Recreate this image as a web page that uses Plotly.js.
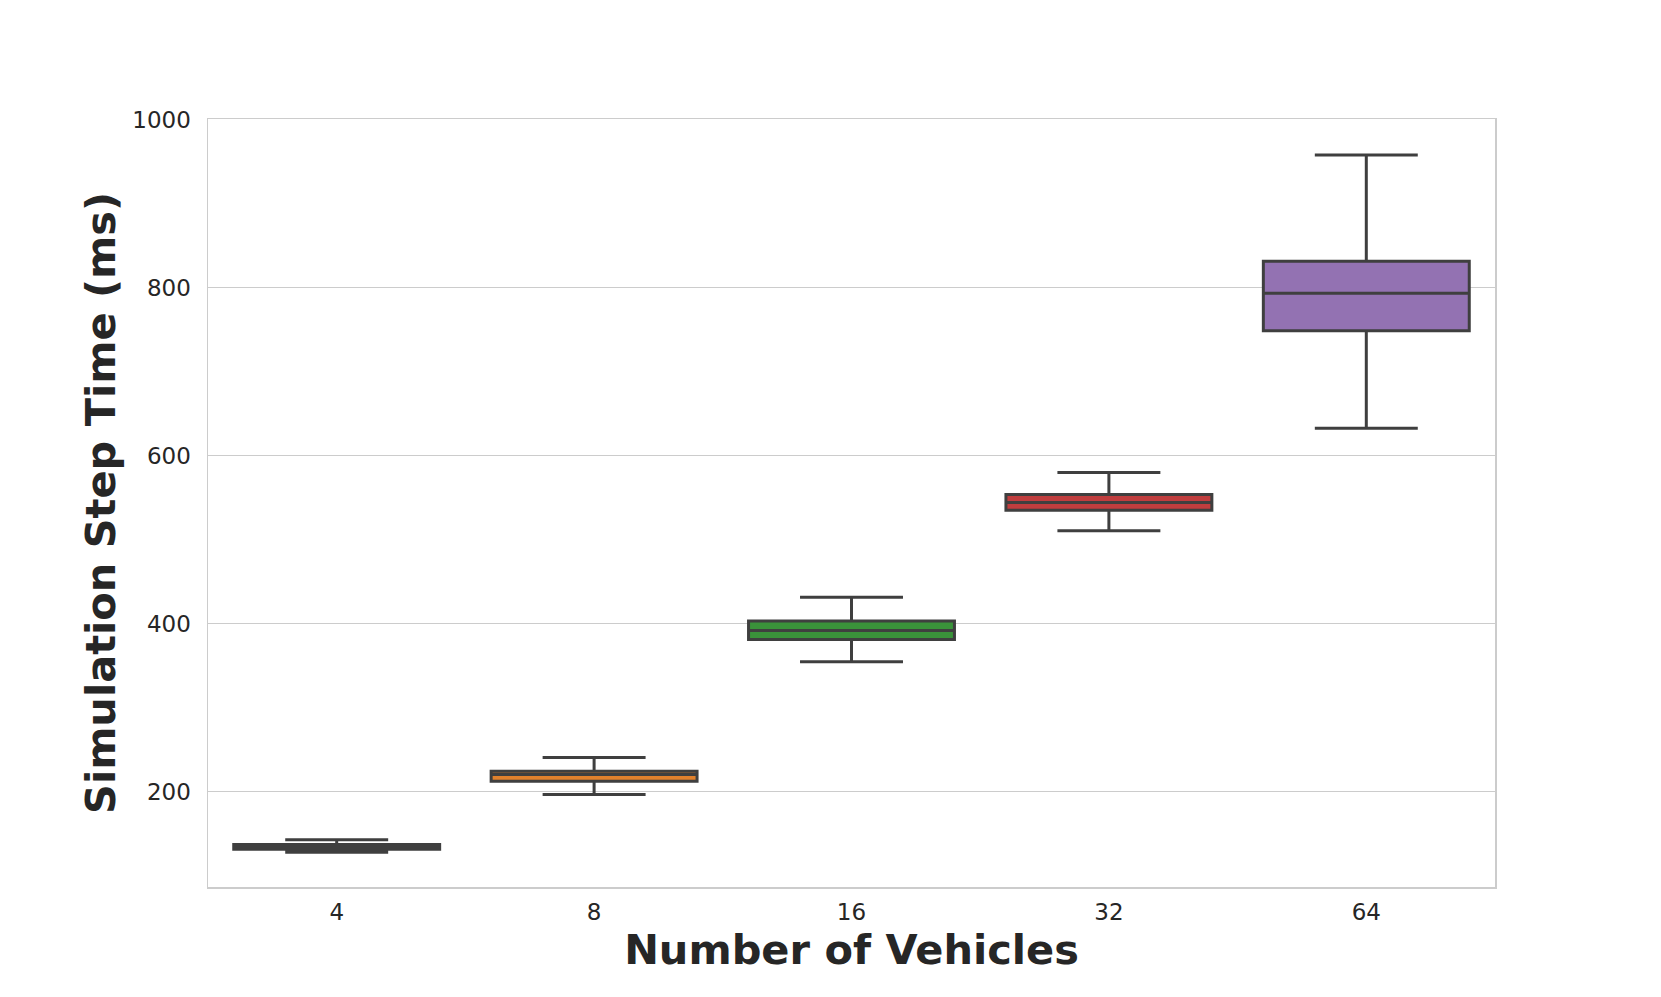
<!DOCTYPE html>
<html>
<head>
<meta charset="utf-8">
<script src="https://cdn.plot.ly/plotly-3.0.1.min.js"></script>
<style>
  html, body { margin: 0; padding: 0; background: #ffffff; }
  #chart { width: 1661px; height: 997px; }
</style>
</head>
<body>
<div id="chart"></div>
<script>
// ---- data ----
const categories  = ["4", "8", "16", "32", "64"];
const lowerWhisk  = [127.9, 196.4, 354.4, 510.4, 632.6];
const q1Values    = [131.3, 212.3, 381.0, 534.9, 748.5];
const medians     = [134.0, 220.2, 391.7, 544.0, 793.3];
const q3Values    = [137.0, 224.2, 402.9, 553.7, 831.4];
const upperWhisk  = [142.5, 240.5, 431.4, 579.8, 957.6];
const yTickVals   = [200, 400, 600, 800, 1000];
const yTickText   = ["200", "400", "600", "800", "1000"];

// ---- styles ----
const palette = ["#3274a1", "#e1812c", "#3a923a", "#c03d3e", "#9372b2"];
const edge = "#3f3f3f";
const textColor = "#262626";
const gridColor = "#cccccc";

const traces = categories.map((c, i) => ({
  type: "box",
  name: c,
  x: [c],
  q1: [q1Values[i]],
  median: [medians[i]],
  q3: [q3Values[i]],
  lowerfence: [lowerWhisk[i]],
  upperfence: [upperWhisk[i]],
  fillcolor: palette[i],
  line: { color: edge, width: 3 },
  width: 0.8,
  whiskerwidth: 0.5,
  boxpoints: false,
  showlegend: false,
  hoverinfo: "skip"
}));

const layout = {
  width: 1661,
  height: 997,
  paper_bgcolor: "#ffffff",
  plot_bgcolor: "#ffffff",
  margin: { l: 208, r: 166, t: 119, b: 110, pad: 0 },
  boxmode: "overlay",
  font: { family: "DejaVu Sans", color: textColor },
  xaxis: {
    type: "category",
    categoryorder: "array",
    categoryarray: categories,
    range: [-0.5, 4.5],
    showgrid: false,
    zeroline: false,
    showline: true,
    mirror: true,
    linecolor: gridColor,
    linewidth: 1.5,
    ticks: "",
    tickfont: { family: "DejaVu Sans", size: 23, color: textColor },
    ticklabelstandoff: 4,
    automargin: false,
    title: {
      text: "<b>Number of Vehicles</b>",
      font: { family: "DejaVu Sans", size: 41.5, color: textColor },
      standoff: 9
    }
  },
  yaxis: {
    range: [86.4, 1000.6],
    tickvals: yTickVals,
    ticktext: yTickText,
    showgrid: true,
    gridcolor: gridColor,
    gridwidth: 1.5,
    zeroline: false,
    showline: true,
    mirror: true,
    linecolor: gridColor,
    linewidth: 1.5,
    ticks: "",
    tickfont: { family: "DejaVu Sans", size: 23, color: textColor },
    ticklabelstandoff: 11,
    automargin: false,
    title: {
      text: "<b>Simulation Step Time (ms)</b>",
      font: { family: "DejaVu Sans", size: 41.5, color: textColor },
      standoff: 4
    }
  }
};

Plotly.newPlot("chart", traces, layout, { displayModeBar: false, staticPlot: true });
</script>
</body>
</html>
